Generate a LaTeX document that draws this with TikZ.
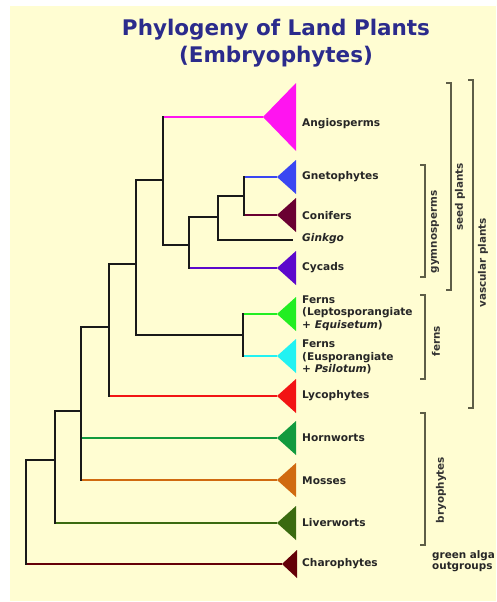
\documentclass[tikz,border=0pt]{standalone}
\usepackage{fontspec}
\setmainfont{DejaVu Sans}
\usetikzlibrary{calc}
\definecolor{paper}{HTML}{FFFDD2}
\definecolor{titleblue}{HTML}{2B2B8C}
\definecolor{bracketgray}{HTML}{5E5E48}
\definecolor{angio}{HTML}{FF14F0}
\definecolor{gneto}{HTML}{3A46F2}
\definecolor{conif}{HTML}{6A0032}
\definecolor{cycad}{HTML}{5C08CC}
\definecolor{lepto}{HTML}{22EE22}
\definecolor{euspo}{HTML}{22F2F2}
\definecolor{lyco}{HTML}{F21414}
\definecolor{horn}{HTML}{129A3E}
\definecolor{moss}{HTML}{D06A10}
\definecolor{liver}{HTML}{3A6A10}
\definecolor{chara}{HTML}{640008}

\begin{document}
\begin{tikzpicture}[x=1pt,y=-1pt,
    branch/.style={line width=2.4pt,draw=black!90,line cap=rect},
    twig/.style={line width=2pt,draw=#1},
    lbl/.style={anchor=west,inner sep=0pt,align=left,text=black!85,
                font=\fontsize{10.6}{12.5}\selectfont\bfseries},
    grp/.style={rotate=90,inner sep=0pt,text=black!80,
                font=\fontsize{10.4}{12.5}\selectfont\bfseries},
    brk/.style={draw=bracketgray,line width=1.1pt}]
  \fill[white] (0,0) rectangle (496,602);
  \fill[paper] (10,6) rectangle (496,601);
  \useasboundingbox (0,0) rectangle (496,602);

  \node[font=\fontsize{21.5}{27}\selectfont\bfseries,text=titleblue,align=center]
    (title) at (276,43) {Phylogeny of Land Plants\\(Embryophytes)};

  % tips
  \coordinate (ang) at (263,117);
  \fill[angio] (ang) -- ++(33,-34) -- ++(0,68) -- cycle;
  \foreach \nm/\col/\yy in {gne/gneto/177,con/conif/215,cyc/cycad/268,
      lep/lepto/314,eus/euspo/356,lyc/lyco/396,hrn/horn/438,mos/moss/480,liv/liver/523}{
    \coordinate (\nm) at (277,\yy);
    \fill[\col] (\nm) -- ++(19,-17) -- ++(0,34) -- cycle;
  }
  \coordinate (cha) at (282,564);
  \fill[chara] (cha) -- ++(15,-14) -- ++(0,28) -- cycle;
  \coordinate (gin) at (293,240);

  % internal nodes
  \coordinate (gc)   at (244,196);
  \coordinate (gcg)  at (218,217);
  \coordinate (gym)  at (189,245);
  \coordinate (seed) at (163,180);
  \coordinate (fern) at (243,335);
  \coordinate (euph) at (136,264);
  \coordinate (vasc) at (109,327);
  \coordinate (emb)  at (81,411);
  \coordinate (land) at (55,460);
  \coordinate (root) at (26,512);

  \draw[twig=angio] (ang -| seed) -- (ang);
  \draw[twig=gneto] (gne -| gc) -- (gne);
  \draw[twig=conif] (con -| gc) -- (con);
  \draw[twig=cycad] (cyc -| gym) -- (cyc);
  \draw[twig=lepto] (lep -| fern) -- (lep);
  \draw[twig=euspo] (eus -| fern) -- (eus);
  \draw[twig=lyco] (lyc -| vasc) -- (lyc);
  \draw[twig=horn] (hrn -| emb) -- (hrn);
  \draw[twig=moss] (mos -| emb) -- (mos);
  \draw[twig=liver] (liv -| land) -- (liv);
  \draw[twig=chara] (cha -| root) -- (cha);
  \draw[branch,line cap=butt] (gin -| gcg) -- (gin);

  \draw[branch] (gne -| gc) -- (con -| gc);
  \draw[branch] (gc) -- (gc -| gcg);
  \draw[branch] (gc -| gcg) -- (gin -| gcg);
  \draw[branch] (gcg) -- (gcg -| gym);
  \draw[branch] (gcg -| gym) -- (cyc -| gym);
  \draw[branch] (gym) -- (gym -| seed);
  \draw[branch] (ang -| seed) -- (gym -| seed);
  \draw[branch] (seed) -- (seed -| euph);
  \draw[branch] (lep -| fern) -- (eus -| fern);
  \draw[branch] (fern) -- (fern -| euph);
  \draw[branch] (seed -| euph) -- (fern -| euph);
  \draw[branch] (euph) -- (euph -| vasc);
  \draw[branch] (euph -| vasc) -- (lyc -| vasc);
  \draw[branch] (vasc) -- (vasc -| emb);
  \draw[branch] (vasc -| emb) -- (mos -| emb);
  \draw[branch] (emb) -- (emb -| land);
  \draw[branch] (emb -| land) -- (liv -| land);
  \draw[branch] (land) -- (land -| root);
  \draw[branch] (land -| root) -- (cha -| root);

  % tip labels
  \node[lbl] (angL) at (302,124) {Angiosperms};
  \node[lbl] (gneL) at (302,177) {Gnetophytes};
  \node[lbl] (conL) at (302,216) {Conifers};
  \node[lbl] (ginL) at (302,239) {\textit{Ginkgo}};
  \node[lbl] (cycL) at (302,268) {Cycads};
  \node[lbl] (lepL) at (302,313) {Ferns\\(Leptosporangiate\\+ \textit{Equisetum})};
  \node[lbl] (eusL) at (302,357) {Ferns\\(Eusporangiate\\+ \textit{Psilotum})};
  \node[lbl] (lycL) at (302,396) {Lycophytes};
  \node[lbl] (hrnL) at (302,438) {Hornworts};
  \node[lbl] (mosL) at (302,481) {Mosses};
  \node[lbl] (livL) at (302,523) {Liverworts};
  \node[lbl] (chaL) at (302,564) {Charophytes};

  % groups
  \draw[brk] (446,83) -| (451,290) -- (446,290);
  \draw[brk] (468,80) -| (473,408) -- (468,408);
  \draw[brk] (420,165) -| (425,277) -- (420,277);
  \draw[brk] (420,295) -| (425,379) -- (420,379);
  \draw[brk] (420,413) -| (425,545) -- (420,545);
  \node[grp] (seedG) at (460,197) {seed plants};
  \node[grp] (vascG) at (483,263) {vascular plants};
  \node[grp] (gymG) at (435,232) {gymnosperms};
  \node[grp] (fernG) at (436,341) {ferns};
  \node[grp] (bryoG) at (441,490) {bryophytes};
  \node[lbl,font=\fontsize{10.4}{11.5}\selectfont\bfseries] (algG) at (432,561) {green alga\\outgroups};
\end{tikzpicture}
\end{document}
